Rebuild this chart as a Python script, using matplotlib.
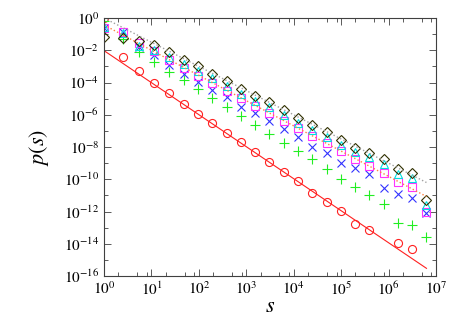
import numpy as np
import matplotlib
matplotlib.use("Agg")
import matplotlib.pyplot as plt
from matplotlib.ticker import LogLocator, NullFormatter, FixedLocator

plt.rcParams['font.family'] = ['Liberation Serif', 'DejaVu Serif']
plt.rcParams['mathtext.fontset'] = 'stix'

# bin centres (log-binned sizes)
s = [1, 2.5, 5.5, 11.5, 23.5, 47.5, 95.5, 191.5, 383.5, 767.5, 1535.5, 3071.5,
     6143.5, 12287.5, 24575.5, 49151.5, 98303.5, 196607.5, 393215.5, 786431.5,
     1572863.5, 3145727.5, 6291455.5]

# log10 p(s) for every series (nan = no point)
log_red = [-0.03, -2.40, -3.29, -4.05, -4.67, -5.35, -5.95, -6.53, -7.11, -7.71,
           -8.31, -8.95, -9.57, -10.11, -10.87, -11.40, -11.97, -12.80, -13.15,
           np.nan, -13.97, -14.31, np.nan]
log_green = [-0.17, -1.30, -2.09, -2.71, -3.33, -3.84, -4.42, -4.98, -5.50, -6.08,
             -6.64, -7.21, -7.73, -8.23, -8.74, -9.38, -9.98, -10.50, -10.98,
             -11.55, -12.70, -12.82, -13.60]
log_blue = [-0.60, -0.89, -1.78, -2.29, -2.91, -3.47, -3.95, -4.47, -4.92, -5.50,
            -5.89, -6.39, -6.90, -7.36, -7.98, -8.39, -9.01, -9.28, -9.67, -10.57,
            -10.89, -11.18, -12.07]
log_magenta = [-0.65, -0.88, -1.57, -2.03, -2.60, -3.12, -3.60, -4.05, -4.51, -4.98,
               -5.48, -5.87, -6.37, -6.84, -7.32, -7.77, -8.23, -8.74, -9.16, -9.63,
               -10.15, -10.50, -12.01]
log_cyan = [-0.55, -0.95, -1.73, -1.96, -2.42, -2.88, -3.30, -3.75, -4.23, -4.69,
            -5.15, -5.53, -6.01, -6.48, -6.94, -7.39, -7.87, -8.34, -8.65, -9.06,
            -9.68, -9.93, -11.59]
log_dark = [-1.16, -1.26, -1.43, -1.66, -2.12, -2.58, -3.00, -3.45, -3.93, -4.39,
            -4.85, -5.23, -5.71, -6.18, -6.64, -7.09, -7.57, -8.04, -8.35, -8.76,
            -9.38, -9.63, -11.29]

# guide lines (end points)
red_fit_s = [1, 6291455.5]
red_fit_p = [9.5e-3, 3.0e-16]
grey_fit_s = [1, 6291455.5]
grey_fit_p = [1.0, 6.3e-11]
orange_fit_s = [1, 6291455.5]
orange_fit_p = [0.37, 8.5e-12]

fig = plt.figure(figsize=(4.63, 3.24), dpi=100)
ax = fig.add_axes([0.2246, 0.1481, 0.7171, 0.7963])

ms = 5.8
lw = 0.8
ax.plot(red_fit_s, red_fit_p, '-', color='#ff2020', lw=lw)
ax.plot(s, np.power(10.0, log_red), 'o', mfc='none', mec='#ff2020', ms=ms, mew=lw)
ax.plot(s, np.power(10.0, log_green), '+', color='#22ee22', ms=7, mew=lw)
ax.plot(s, np.power(10.0, log_blue), 'x', color='#3333ff', ms=6, mew=lw)
ax.plot(s, np.power(10.0, log_magenta), 's', mfc='none', mec='#ff33ff', ms=ms, mew=lw)
ax.plot(s, np.power(10.0, log_cyan), '^', mfc='none', mec='#00e0e0', ms=ms, mew=lw)
ax.plot(s, np.power(10.0, log_dark), 'D', mfc='none', mec='#303000', ms=ms - 0.5, mew=lw)
ax.plot(orange_fit_s, orange_fit_p, ':', color='#ff8040', lw=1.0)
ax.plot(grey_fit_s, grey_fit_p, ':', color='#a0a0a0', lw=1.0)

ax.set_xscale('log')
ax.set_yscale('log')
ax.set_xlim(1, 1e7)
ax.set_ylim(1e-16, 1)

ax.xaxis.set_major_locator(FixedLocator([10.0 ** k for k in range(0, 8)]))
ax.xaxis.set_minor_locator(LogLocator(base=10, subs=(2, 5, 8), numticks=20))
ax.xaxis.set_minor_formatter(NullFormatter())
ax.yaxis.set_major_locator(FixedLocator([10.0 ** k for k in range(-16, 1, 2)]))
ax.yaxis.set_minor_locator(FixedLocator([10.0 ** k for k in range(-15, 0, 2)]))
ax.yaxis.set_minor_formatter(NullFormatter())
ax.set_xticklabels([r'$10^{%d}$' % k for k in range(0, 8)])
ax.set_yticklabels([r'$10^{%d}$' % k for k in range(-16, 1, 2)])

ax.tick_params(which='both', direction='in', top=True, right=True, labelsize=11,
               width=0.6, color='#404040')
ax.tick_params(which='major', length=5)
ax.tick_params(which='minor', length=3)
for sp in ax.spines.values():
    sp.set_linewidth(0.8)
    sp.set_color('#404040')

ax.set_xlabel(r'$s$', fontsize=16, labelpad=0)
ax.set_ylabel(r'$p(s)$', fontsize=16, labelpad=9)

fig.savefig('out.png', dpi=100)
